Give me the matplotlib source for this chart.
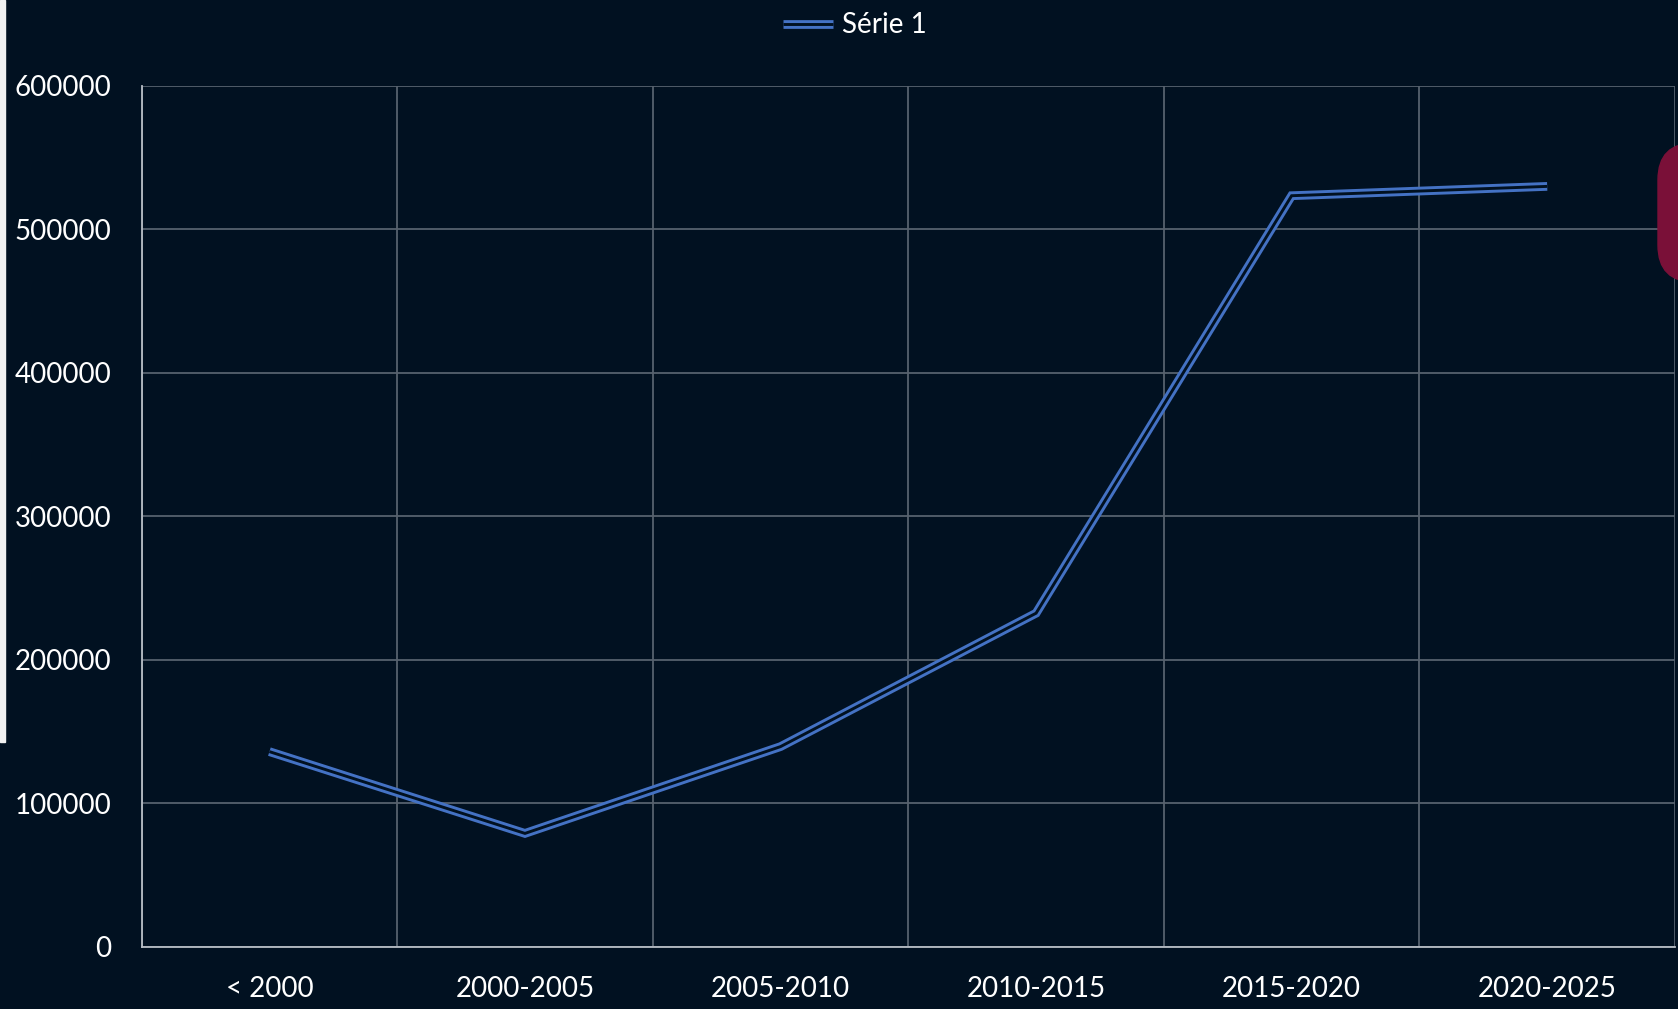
import numpy as np
import matplotlib
matplotlib.use("Agg")
import matplotlib.pyplot as plt
from matplotlib.patches import Rectangle, FancyBboxPatch
from matplotlib.legend_handler import HandlerTuple

categories = ["< 2000", "2000-2005", "2005-2010", "2010-2015", "2015-2020", "2020-2025"]
serie_1 = [136000, 79000, 139500, 232500, 523500, 530000]
y_ticks = [0, 100000, 200000, 300000, 400000, 500000, 600000]

BG = "#011121"
BLUE = "#4472C4"
GRID = "#56616e"
TEXT = "#ffffff"

plt.rcParams.update({
    "font.family": ["Lato", "DejaVu Sans"],
    "font.size": 20,
})

fig = plt.figure(figsize=(16.78, 10.09), dpi=100, facecolor=BG)
ax = fig.add_axes([0.0844, 0.0617, 0.9138, 0.8531])
ax.set_facecolor(BG)

x = np.arange(len(categories))
# double (compound) line: wide blue stroke with a thin background stroke on top
outer, = ax.plot(x, serie_1, color=BLUE, lw=6.3, solid_joinstyle="miter",
                 solid_capstyle="butt", zorder=3)
inner, = ax.plot(x, serie_1, color=BG, lw=2.1, solid_joinstyle="miter",
                 solid_capstyle="butt", zorder=4)

ax.set_xlim(-0.5, len(categories) - 0.5)
ax.set_ylim(0, 600000)
ax.set_xticks(x)
ax.set_xticklabels(categories)
ax.set_xticks(np.arange(-0.5, len(categories), 1), minor=True)
ax.set_yticks(y_ticks)
ax.set_yticklabels([str(v) for v in y_ticks])

ax.grid(which="minor", axis="x", color=GRID, lw=1.3)
ax.grid(which="major", axis="y", color=GRID, lw=1.3)
ax.grid(which="major", axis="x", visible=False)
ax.set_axisbelow(True)

ax.tick_params(which="both", length=0, colors=TEXT, labelsize=20)
ax.tick_params(axis="y", pad=22)
ax.tick_params(axis="x", pad=21)

for s in ["top", "right"]:
    ax.spines[s].set_visible(False)
for s in ["left", "bottom"]:
    ax.spines[s].set_color("#b8bec6")
    ax.spines[s].set_linewidth(1.3)

fig.legend([(outer, inner)], ["Série 1"], loc="center", bbox_to_anchor=(0.5095, 0.975),
           frameon=False, handlelength=1.8, handletextpad=0.3, labelcolor=TEXT,
           fontsize=20, handler_map={tuple: HandlerTuple(ndivide=1)})

# decorations around the chart frame
fig.patches.append(Rectangle((0, 1 - 742 / 1009), 5 / 1678, 742 / 1009,
                             transform=fig.transFigure, color="#f2f2f2", zorder=0))
fig.patches.append(FancyBboxPatch((1658 / 1678, 1 - 282 / 1009), 60 / 1678, 139 / 1009,
                                  boxstyle="round,pad=0,rounding_size=0.022",
                                  transform=fig.transFigure, color="#7a1038",
                                  mutation_aspect=1678 / 1009, zorder=0))

fig.savefig("out.png", dpi=100, facecolor=BG)
